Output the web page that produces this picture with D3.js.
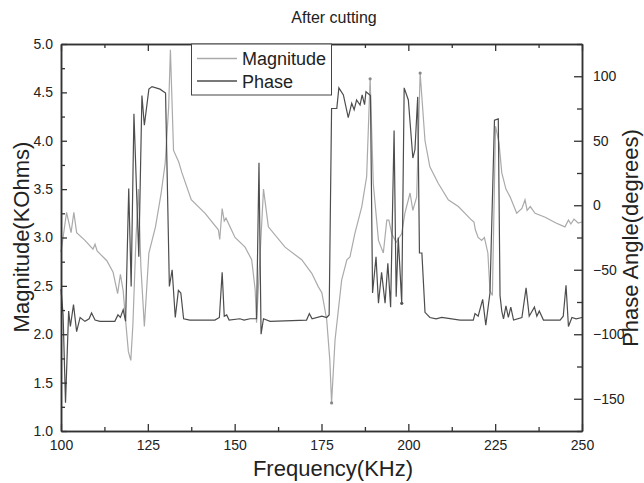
<!DOCTYPE html>
<html>
<head>
<meta charset="utf-8">
<script src="https://cdn.jsdelivr.net/npm/d3@7"></script>
<style>
body { margin: 0; background: #fff; }
svg text { font-family: "Liberation Sans", Arial, sans-serif; fill: #222; }
</style>
</head>
<body>
<svg width="644" height="483"></svg>
<script>
var magFreq = [100.0, 100.6, 101.6, 102.9, 103.7, 104.5, 106.9, 109.2, 109.8, 110.4,
  113.2, 115.0, 116.3, 117.1, 117.9, 118.7, 119.4, 120.1, 120.7, 121.6,
  122.3, 123.0, 124.0, 125.3, 127.2, 128.8, 130.0, 131.0, 131.5, 132.4,
  133.9, 134.8, 137.5, 141.5, 145.3, 145.7, 146.4, 147.0, 147.5, 150.1,
  153.0, 154.9, 155.9, 156.3, 158.3, 159.7, 164.5, 169.3, 172.2, 174.1,
  175.1, 176.5, 177.4, 177.9, 178.9, 180.8, 182.3, 183.2, 184.6, 186.6,
  188.0, 189.0, 189.9, 191.4, 192.8, 193.8, 194.4, 195.2, 196.5, 198.1,
  199.0, 200.5, 201.3, 202.4, 203.4, 204.8, 206.2, 208.6, 211.5, 214.4,
  218.2, 218.9, 219.3, 220.1, 221.1, 221.9, 222.9, 223.5, 224.2, 225.1,
  226.1, 226.9, 228.1, 229.3, 231.2, 232.7, 233.6, 234.2, 235.1, 236.5,
  239.4, 242.5, 245.1, 246.1, 246.8, 247.7, 248.9, 250.0];
var magVal = [2.85, 3.0, 3.26, 3.05, 3.26, 3.05, 2.97, 2.88, 2.93, 2.86,
  2.76, 2.64, 2.42, 2.62, 2.45, 2.1, 1.82, 1.73, 2.1, 3.0,
  3.5, 2.7, 2.08, 2.84, 3.11, 3.45, 3.77, 4.35, 4.94, 3.9,
  3.78, 3.67, 3.39, 3.25, 3.08, 2.98, 3.3, 3.17, 3.2, 3.0,
  2.9, 2.77, 2.46, 2.12, 3.5, 3.11, 2.9, 2.77, 2.63, 2.49,
  2.43, 2.15, 1.73, 1.29, 1.94, 2.56, 2.77, 2.8, 3.04, 3.32,
  3.63, 4.64, 3.56, 2.97, 2.84, 3.18, 3.18, 3.04, 2.95, 3.04,
  3.25, 3.46, 3.28, 3.42, 4.70, 4.0, 3.73, 3.56, 3.39, 3.32,
  3.18, 3.16, 3.08, 3.0, 2.97, 3.0, 2.84, 2.45, 2.4, 4.15,
  3.98, 3.67, 3.5, 3.42, 3.25, 3.3, 3.39, 3.28, 3.32, 3.25,
  3.21, 3.15, 3.11, 3.18, 3.14, 3.19, 3.15, 3.16];

var phaseFreq = [100.0, 100.6, 101.3, 102.2, 102.7, 103.6, 104.5, 105.5, 106.9, 108.1,
  108.8, 109.8, 111.2, 115.5, 116.4, 117.1, 117.9, 118.6, 119.5, 120.2,
  121.0, 122.4, 123.3, 124.0, 125.3, 126.2, 128.5, 130.1, 131.2, 132.0,
  132.9, 133.8, 134.5, 135.3, 137.1, 144.3, 145.6, 146.4, 147.0, 147.7,
  148.4, 151.5, 152.7, 154.4, 156.3, 157.0, 157.6, 158.3, 160.2, 170.7,
  171.5, 172.3, 175.1, 176.5, 177.2, 177.9, 179.4, 180.0, 181.3, 182.7,
  183.7, 184.4, 185.1, 186.1, 186.7, 187.4, 187.8, 189.1, 189.7, 190.7,
  191.4, 192.3, 193.3, 194.1, 194.9, 195.9, 196.5, 197.1, 198.1, 198.8,
  200.0, 201.3, 201.9, 202.7, 203.2, 203.9, 204.8, 206.2, 208.0, 209.6,
  214.9, 218.7, 219.2, 220.1, 221.4, 222.3, 223.5, 224.8, 225.9, 226.4,
  226.9, 227.4, 228.1, 228.8, 229.5, 230.3, 232.7, 233.9, 234.8, 236.3,
  237.0, 237.7, 238.9, 243.7, 244.6, 245.4, 246.1, 247.1, 248.3, 250.0];
var phaseVal = [-65, -85, -153, -82, -94, -77, -98, -87, -90, -88,
  -83.5, -89, -90, -90, -85, -87, -81, -90, 13, -63,
  71, -40, 85, 62, 90, 92, 90, 87, -63, -50,
  -87, -66, -68, -88, -89, -89, -87, -52, -86, -85,
  -89, -88, -89, -88, -88, 33, -100, -88, -90, -89,
  -84, -88, -86, -87, -85, 75, 75, 91, 85.5, 68,
  79, 74, 81.6, 77.7, 85.5, 78, 88, 85, -68, -40,
  -76, -52, -76, -45, -79, 58, -71, -25, -76, 91,
  81.6, 36.6, 43, 84, -37, -37, -83, -87, -88, -87,
  -89, -89, -84, -86, -73, -93, -68, 66, 67, -70,
  -82, -88, -78, -87, -79, -89, -87, -64, -86, -79,
  -86, -82, -89, -89, -86, -62, -94, -87, -88, -87];

// small dot markers that show on a few extreme points
var magDotFreq = [177.9, 189.0, 203.4];
var phaseDotFreq = [198.1];

var xMajor = [100, 125, 150, 175, 200, 225, 250];
var xMinor = [112.5, 137.5, 162.5, 187.5, 212.5, 237.5];
var magMajor = [1.0, 1.5, 2.0, 2.5, 3.0, 3.5, 4.0, 4.5, 5.0];
var magMinor = [1.25, 1.75, 2.25, 2.75, 3.25, 3.75, 4.25, 4.75];
var phMajor = [-150, -100, -50, 0, 50, 100];
var phMinor = [-175, -125, -75, -25, 25, 75, 125];

var svg = d3.select("svg");
var mLeft = 61, mRight = 582, mTop = 44, mBottom = 431;

var x = d3.scaleLinear().domain([100, 250]).range([mLeft, mRight]);
var yMag = d3.scaleLinear().domain([1, 5]).range([mBottom, mTop]);
var yPh = d3.scaleLinear().domain([-175, 125]).range([mBottom, mTop]);

var magData = magFreq.map((f, i) => [f, magVal[i]]);
var phData = phaseFreq.map((f, i) => [f, phaseVal[i]]);

var plot = svg.append("g");
plot.append("path")
  .datum(magData)
  .attr("fill", "none")
  .attr("stroke", "#aaa")
  .attr("stroke-width", 1.2)
  .attr("d", d3.line().x(d => x(d[0])).y(d => yMag(d[1])));
plot.append("path")
  .datum(phData)
  .attr("fill", "none")
  .attr("stroke", "#4d4d4d")
  .attr("stroke-width", 1.2)
  .attr("d", d3.line().x(d => x(d[0])).y(d => yPh(d[1])));

plot.selectAll("circle.md")
  .data(magData.filter(d => magDotFreq.indexOf(d[0]) >= 0))
  .enter().append("circle").attr("class", "md")
  .attr("cx", d => x(d[0])).attr("cy", d => yMag(d[1])).attr("r", 1.6).attr("fill", "#888");
plot.selectAll("circle.pd")
  .data(phData.filter(d => phaseDotFreq.indexOf(d[0]) >= 0))
  .enter().append("circle").attr("class", "pd")
  .attr("cx", d => x(d[0])).attr("cy", d => yPh(d[1])).attr("r", 1.6).attr("fill", "#555");

function styleAxis(g){
  g.select(".domain").attr("stroke", "#333").attr("stroke-width", 1.5);
  g.selectAll(".tick line").attr("stroke", "#333").attr("stroke-width", 1.3);
  g.selectAll("text").attr("font-size", 14).attr("fill", "#222");
}

// bottom + top
svg.append("g").attr("transform", "translate(0," + mBottom + ")")
  .call(d3.axisBottom(x).tickValues(xMinor).tickSizeInner(-4).tickSizeOuter(0).tickFormat(""))
  .call(styleAxis);
svg.append("g").attr("transform", "translate(0," + mBottom + ")")
  .call(d3.axisBottom(x).tickValues(xMajor).tickSizeInner(-7).tickSizeOuter(0).tickPadding(9).tickFormat(d3.format("d")))
  .call(styleAxis);
svg.append("g").attr("transform", "translate(0," + mTop + ")")
  .call(d3.axisTop(x).tickValues(xMinor).tickSizeInner(-4).tickSizeOuter(0).tickFormat(""))
  .call(styleAxis);
svg.append("g").attr("transform", "translate(0," + mTop + ")")
  .call(d3.axisTop(x).tickValues(xMajor).tickSizeInner(-7).tickSizeOuter(0).tickFormat(""))
  .call(styleAxis);

// left
svg.append("g").attr("transform", "translate(" + mLeft + ",0)")
  .call(d3.axisLeft(yMag).tickValues(magMinor).tickSizeInner(-4).tickSizeOuter(0).tickFormat(""))
  .call(styleAxis);
svg.append("g").attr("transform", "translate(" + mLeft + ",0)")
  .call(d3.axisLeft(yMag).tickValues(magMajor).tickSizeInner(-6).tickSizeOuter(0).tickPadding(8).tickFormat(d3.format(".1f")))
  .call(styleAxis);

// right
svg.append("g").attr("transform", "translate(" + mRight + ",0)")
  .call(d3.axisRight(yPh).tickValues(phMinor).tickSizeInner(-5).tickSizeOuter(0).tickFormat(""))
  .call(styleAxis);
svg.append("g").attr("transform", "translate(" + mRight + ",0)")
  .call(d3.axisRight(yPh).tickValues(phMajor).tickSizeInner(-8).tickSizeOuter(0).tickPadding(11))
  .call(styleAxis);

// legend
var lg = svg.append("g");
lg.append("rect").attr("x", 191.5).attr("y", 44).attr("width", 140).attr("height", 51)
  .attr("fill", "#fff").attr("stroke", "#444").attr("stroke-width", 1);
var legendItems = [["Magnitude", "#aaa"], ["Phase", "#4d4d4d"]];
legendItems.forEach(function(it, i){
  var yy = 58.5 + i * 22.5;
  lg.append("line").attr("x1", 197).attr("x2", 237).attr("y1", yy).attr("y2", yy)
    .attr("stroke", it[1]).attr("stroke-width", 1.4);
  lg.append("text").attr("x", 242).attr("y", yy + 6.5).attr("font-size", 18).text(it[0]);
});

// titles
svg.append("text").attr("x", 334).attr("y", 23).attr("text-anchor", "middle")
  .attr("font-size", 16).text("After cutting");
svg.append("text").attr("x", 333).attr("y", 476).attr("text-anchor", "middle")
  .attr("font-size", 22).text("Frequency(KHz)");
svg.append("text").attr("transform", "translate(29,237) rotate(-90)").attr("text-anchor", "middle")
  .attr("font-size", 22).text("Magnitude(KOhms)");
svg.append("text").attr("transform", "translate(638,238) rotate(-90)").attr("text-anchor", "middle")
  .attr("font-size", 22).text("Phase Angle(degrees)");
</script>
</body>
</html>
